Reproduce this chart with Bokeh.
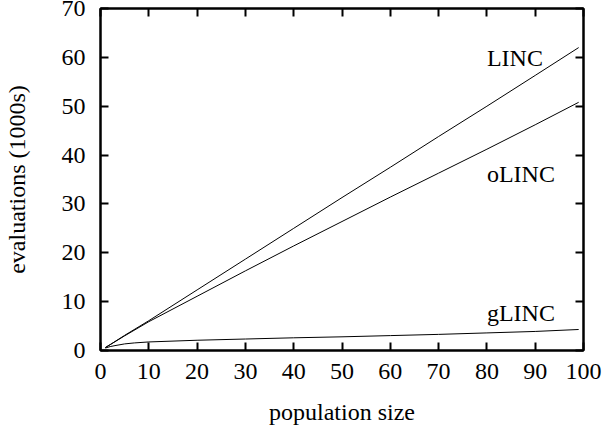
from bokeh.plotting import figure
from bokeh.models import Range1d, LinearAxis, ColumnDataSource, FixedTicker, CustomLabelingPolicy
from bokeh.core.properties import value
from bokeh.embed import file_html
from bokeh.resources import INLINE

# ---- data ----
pop_size = [1, 2, 5, 10, 20, 30, 40, 50, 60, 70, 80, 90, 99]
linc = [0.6, 1.2, 3.1, 6.1, 12.4, 18.7, 25.0, 31.3, 37.5, 43.8, 50.0, 56.3, 62.0]
olinc = [0.6, 1.2, 3.0, 5.9, 11.1, 16.3, 21.4, 26.4, 31.4, 36.3, 41.2, 46.2, 50.8]
glinc_x = [1, 2, 3, 5, 7, 10, 20, 30, 40, 50, 60, 70, 80, 90, 99]
glinc = [0.5, 0.8, 1.0, 1.35, 1.55, 1.75, 2.1, 2.35, 2.6, 2.8, 3.05, 3.3, 3.6, 3.9, 4.3]

label_text = ["LINC", "oLINC", "gLINC"]
label_x = [80, 80, 80]
label_y = [59.8, 36.2, 7.6]

x_ticks = [0, 10, 20, 30, 40, 50, 60, 70, 80, 90, 100]
y_ticks = [0, 10, 20, 30, 40, 50, 60, 70]

FONT = "Liberation Serif"
FS = "24px"

p = figure(width=605, height=429, output_backend="svg", toolbar_location=None,
           x_range=Range1d(0, 100), y_range=Range1d(0, 70),
           min_border_left=99, min_border_right=22, min_border_top=8, min_border_bottom=79)
p.background_fill_color = "white"
p.border_fill_color = "white"
p.grid.visible = False
p.outline_line_color = "black"
p.outline_line_width = 2

for ax in (p.xaxis[0], p.yaxis[0]):
    ax.major_tick_in = 8
    ax.major_tick_out = 0
    ax.minor_tick_in = 0
    ax.minor_tick_out = 0
    ax.axis_line_width = 2
    ax.major_tick_line_width = 2
    ax.major_label_text_font = FONT
    ax.major_label_text_font_size = FS
    ax.major_label_text_color = "black"
    ax.axis_label_text_font = FONT
    ax.axis_label_text_font_size = FS
    ax.axis_label_text_font_style = "normal"
    ax.axis_label_text_color = "black"

p.xaxis[0].ticker = FixedTicker(ticks=x_ticks)
p.yaxis[0].ticker = FixedTicker(ticks=y_ticks)
p.xaxis[0].axis_label = "population size"
p.yaxis[0].axis_label = "evaluations (1000s)"
p.xaxis[0].major_label_standoff = 13
p.yaxis[0].major_label_standoff = 15
p.xaxis[0].axis_label_standoff = 17
p.yaxis[0].axis_label_standoff = 29

hide_all = CustomLabelingPolicy(code="""
const keep = [];
for (const i of indices) keep.push(i);
for (const i of keep) indices.unset(i);
return indices;
""")

# mirror ticks on top and right
top = LinearAxis(ticker=FixedTicker(ticks=x_ticks))
right = LinearAxis(ticker=FixedTicker(ticks=y_ticks))
for ax in (top, right):
    ax.major_tick_in = 8
    ax.major_tick_out = 0
    ax.minor_tick_in = 0
    ax.minor_tick_out = 0
    ax.axis_line_width = 2
    ax.major_tick_line_width = 2
    ax.major_label_policy = hide_all
    ax.major_label_text_font_size = "0px"
    ax.major_label_standoff = 0
    ax.axis_label_standoff = 0
p.add_layout(top, "above")
p.add_layout(right, "right")

p.line(pop_size, linc, line_color="black", line_width=1)
p.line(pop_size, olinc, line_color="black", line_width=1)
p.line(glinc_x, glinc, line_color="black", line_width=1)

src = ColumnDataSource(dict(x=label_x, y=label_y, t=label_text))
p.text(x="x", y="y", text="t", source=src, text_font=value(FONT), text_font_size=FS,
       text_align="left", text_baseline="middle", text_color="black")

open("out.html", "w").write(file_html(p, INLINE))
